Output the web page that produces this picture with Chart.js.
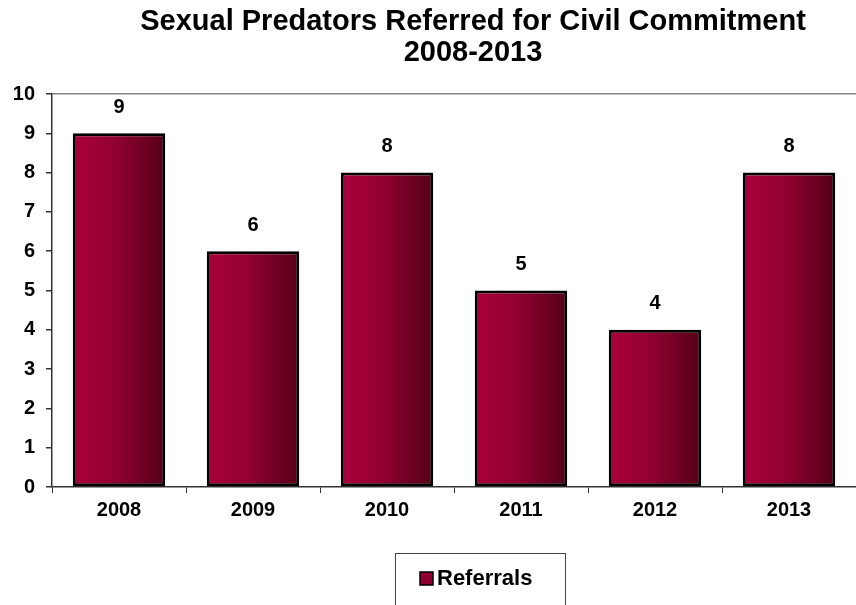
<!DOCTYPE html>
<html lang="en">
<head>
    <meta charset="UTF-8">
    <title>Sexual Predators Referred for Civil Commitment</title>
    <script src="https://cdn.jsdelivr.net/npm/chart.js"></script>
    <style>
        body { margin: 0; background: #fff; }
        canvas { display: block; }
    </style>
</head>
<body>
    <canvas id="referralChart" width="856" height="605"></canvas>

    <script>
        const years = ['2008', '2009', '2010', '2011', '2012', '2013'];
        const referrals = [9, 6, 8, 5, 4, 8];
        const titleLines = ['Sexual Predators Referred for Civil Commitment', '2008-2013'];
        const seriesName = 'Referrals';

        const FONT = '"Liberation Sans", Arial, sans-serif';
        const AXIS_COLOR = '#333';

        // horizontal crimson-to-maroon fill, one gradient per bar
        function barFill(context) {
            const chart = context.chart;
            const el = chart.getDatasetMeta(context.datasetIndex).data[context.dataIndex];
            if (!chart.chartArea || !el) return '#8e0030';
            const x = chart.scales.x.getPixelForValue(context.dataIndex);
            const half = (chart.scales.x.width / years.length) * 0.68 / 2;
            const g = chart.ctx.createLinearGradient(x - half, 0, x + half, 0);
            g.addColorStop(0, '#aa003b');
            g.addColorStop(0.45, '#920031');
            g.addColorStop(1, '#550018');
            return g;
        }

        const headerPlugin = {
            id: 'header',
            afterDraw(chart) {
                const ctx = chart.ctx;
                ctx.save();
                ctx.fillStyle = '#000';
                ctx.textAlign = 'center';
                ctx.textBaseline = 'middle';
                ctx.font = 'bold 29px ' + FONT;
                titleLines.forEach((line, i) => ctx.fillText(line, 473, 22 + i * 31));
                ctx.restore();
            }
        };

        const valueLabels = {
            id: 'valueLabels',
            afterDatasetsDraw(chart) {
                const ctx = chart.ctx;
                const meta = chart.getDatasetMeta(0);
                ctx.save();
                ctx.fillStyle = '#000';
                ctx.textAlign = 'center';
                ctx.textBaseline = 'middle';
                ctx.font = 'bold 20px ' + FONT;
                meta.data.forEach((bar, i) => {
                    ctx.fillText(String(referrals[i]), bar.x, bar.y - 26);
                });
                ctx.restore();
            }
        };

        // boxed legend under the axis
        const boxLegend = {
            id: 'boxLegend',
            afterDraw(chart) {
                const ctx = chart.ctx;
                const top = chart.chartArea.bottom + 66;
                ctx.save();
                ctx.strokeStyle = '#444';
                ctx.lineWidth = 1;
                ctx.strokeRect(395.5, top + 0.5, 170, 80);
                ctx.fillStyle = '#8e0030';
                ctx.fillRect(420, top + 19, 13, 13);
                ctx.strokeStyle = '#000';
                ctx.lineWidth = 1.5;
                ctx.strokeRect(420, top + 19, 13, 13);
                ctx.fillStyle = '#000';
                ctx.textAlign = 'left';
                ctx.textBaseline = 'middle';
                ctx.font = 'bold 22px ' + FONT;
                ctx.fillText(chart.data.datasets[0].label, 437, top + 26);
                ctx.restore();
            }
        };

        const ctx = document.getElementById('referralChart').getContext('2d');
        const chart = new Chart(ctx, {
            type: 'bar',
            data: {
                labels: years,
                datasets: [{
                    label: seriesName,
                    data: referrals,
                    backgroundColor: barFill,
                    borderColor: '#000',
                    borderWidth: 3,
                    borderSkipped: false,
                    categoryPercentage: 1,
                    barPercentage: 0.69
                }]
            },
            options: {
                responsive: false,
                animation: false,
                layout: { padding: { top: 94, bottom: 52, left: 0, right: 0 } },
                plugins: {
                    legend: { display: false },
                    title: { display: false },
                    tooltip: { enabled: false }
                },
                scales: {
                    x: {
                        afterFit(scale) { scale.height = 66; },
                        grid: {
                            offset: true,
                            drawOnChartArea: false,
                            tickColor: AXIS_COLOR,
                            tickLength: 6
                        },
                        border: { color: AXIS_COLOR, width: 1.5 },
                        ticks: {
                            color: '#000',
                            padding: 5,
                            font: { family: FONT, size: 20, weight: 'bold' }
                        }
                    },
                    y: {
                        min: 0,
                        max: 10,
                        afterFit(scale) { scale.width = 52; },
                        grid: {
                            color: c => c.tick && c.tick.value === 10 ? '#888' : 'rgba(0,0,0,0)',
                            lineWidth: 1.5,
                            tickColor: AXIS_COLOR,
                            tickLength: 6
                        },
                        border: { color: AXIS_COLOR, width: 1.5 },
                        ticks: {
                            stepSize: 1,
                            color: '#000',
                            padding: 11,
                            font: { family: FONT, size: 20, weight: 'bold' }
                        }
                    }
                }
            },
            plugins: [headerPlugin, valueLabels, boxLegend]
        });
    </script>
</body>
</html>
